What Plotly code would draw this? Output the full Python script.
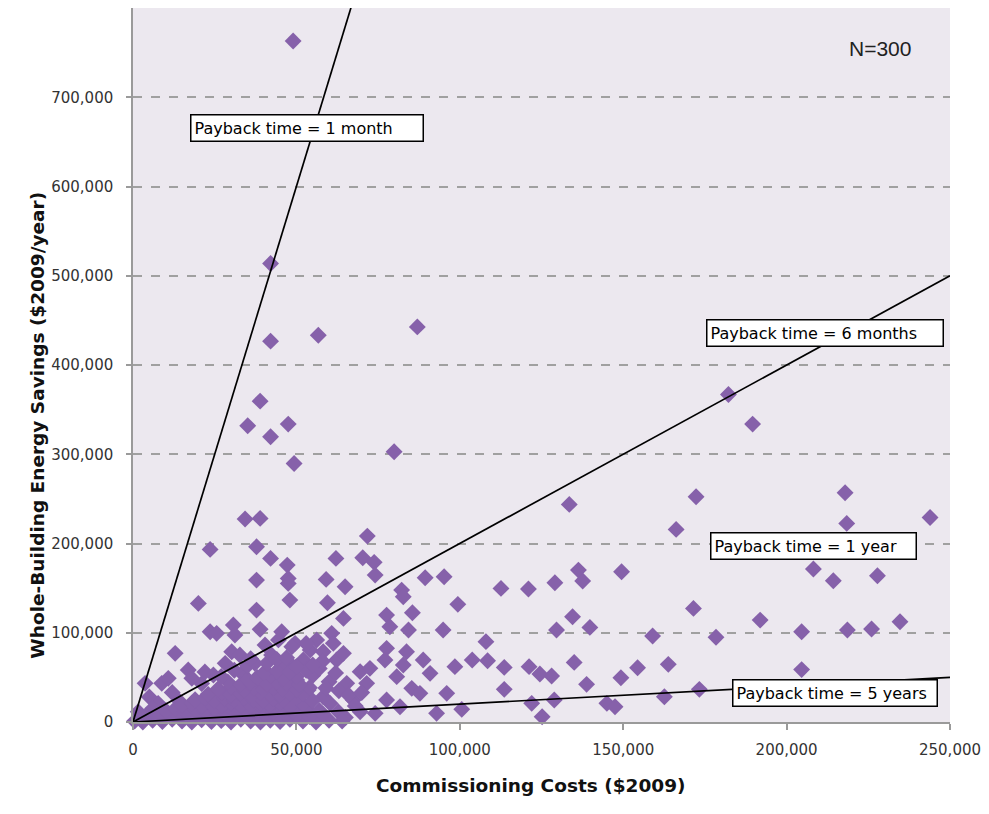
import plotly.graph_objects as go

# Commissioning cost vs. annual whole-building energy savings, in thousands of $2009.
# Each list holds (cost, savings) pairs for one part of the scatter.
high_savings = [
    (49.0, 763.0), (42.1, 513.7), (42.1, 426.7), (56.7, 433.4), (87.0, 442.7),
    (38.9, 359.5), (35.1, 331.9), (47.5, 333.8), (42.1, 319.6), (79.9, 302.8),
    (49.3, 289.7), (34.3, 227.4), (38.9, 228.1), (71.7, 208.3), (23.6, 193.4),
    (37.8, 196.3), (42.1, 183.3), (47.2, 175.8), (62.1, 183.3), (70.3, 184.0),
    (73.8, 178.9), (74.1, 164.6), (37.8, 159.0), (47.5, 160.9), (59.1, 159.8),
    (64.9, 151.6), (89.4, 161.6), (95.2, 162.7), (82.2, 147.8),
]

mid_cost = [
    (133.5, 243.8), (172.3, 252.4), (166.2, 215.8), (112.6, 149.7), (121.0, 149.0),
    (129.1, 156.0), (136.3, 170.2), (137.6, 157.9), (149.5, 168.3), (99.4, 131.8),
    (171.5, 127.3), (134.5, 118.0), (129.6, 103.0), (139.8, 106.0), (159.0, 96.3),
    (108.0, 90.0), (98.5, 62.0), (103.8, 69.4), (108.5, 68.7), (113.6, 61.2),
    (121.2, 62.0), (124.5, 53.8), (128.1, 51.5), (135.0, 66.8), (138.8, 42.2),
    (149.3, 49.6), (154.4, 60.8), (163.8, 64.6), (113.6, 36.6), (122.0, 20.9),
    (128.9, 24.6), (125.2, 5.9), (100.6, 14.2), (145.0, 20.9), (147.5, 17.1),
    (162.6, 28.3), (173.3, 36.6),
]

high_cost = [
    (182.2, 367.0), (189.6, 333.8), (217.9, 256.8), (243.9, 229.2), (218.4, 222.5),
    (208.2, 171.4), (214.3, 158.3), (227.8, 163.9), (178.4, 94.9), (191.9, 114.2),
    (204.6, 101.2), (218.6, 103.0), (226.0, 104.2), (234.7, 112.3), (204.6, 58.7),
]

cost_50k_100k = [
    (59.5, 133.6), (48.0, 136.6), (82.7, 140.3), (85.5, 122.4), (77.6, 119.8),
    (78.6, 106.7), (84.3, 103.0), (94.9, 103.0), (64.4, 116.1), (60.8, 99.3),
    (54.2, 80.6), (58.2, 78.7), (49.6, 88.1), (62.3, 69.4), (77.6, 82.5),
    (77.1, 69.4), (83.7, 78.7), (82.7, 63.8), (88.8, 69.4), (90.9, 54.5),
    (69.5, 56.4), (72.5, 60.1), (65.4, 43.3), (71.5, 43.3), (80.7, 50.8),
    (85.3, 37.7), (87.8, 32.1), (96.0, 32.1), (77.6, 24.6), (81.7, 17.1),
    (74.1, 9.7), (92.9, 9.7), (55.7, 5.9), (62.8, 11.5), (50.1, 47.0),
    (53.6, 35.8), (58.2, 28.3), (67.4, 24.6), (69.5, 11.5), (48.0, 65.7),
    (56.2, 91.8), (61.3, 88.1), (64.4, 76.9), (52.1, 69.4), (49.1, 28.3),
    (51.1, 13.4), (60.3, 20.9), (55.0, 52.0), (57.0, 60.0), (60.0, 45.0),
    (62.0, 55.0), (59.0, 38.0), (63.0, 35.0), (66.0, 30.0), (68.0, 18.0),
    (65.0, 5.0), (70.0, 33.0), (58.0, 68.0), (53.0, 88.0),
]

low_cost_upper = [
    (20.0, 132.9), (37.8, 125.4), (47.5, 155.3), (23.6, 101.1), (25.6, 99.3),
    (30.7, 108.6), (31.2, 97.4), (38.9, 103.8), (45.5, 101.1), (12.9, 76.9),
    (16.9, 58.2), (30.2, 78.7), (32.7, 75.0), (40.4, 86.2), (42.4, 75.0),
    (48.6, 84.3), (3.7, 43.3), (8.8, 43.3), (10.8, 48.9), (24.6, 52.6),
    (28.2, 65.7), (33.3, 54.5), (37.3, 65.7), (39.4, 47.0), (45.5, 62.0),
    (48.6, 50.8), (7.7, 20.9), (1.6, 11.5), (5.0, 28.0), (12.0, 33.0),
    (14.0, 24.0), (6.0, 15.0), (44.5, 92.0),
]

low_cost_cluster = [
    (0.5, 1.0), (3.0, 0.0), (6.0, 2.0), (9.0, 0.5), (12.0, 3.0), (15.0, 1.0),
    (18.0, 0.0), (21.0, 2.5), (24.0, 0.5), (27.0, 1.5), (30.0, 0.0), (33.0, 3.0),
    (36.0, 1.0), (39.0, 0.0), (42.0, 2.0), (45.0, 0.5), (48.0, 3.0), (52.0, 1.0),
    (56.0, 0.0), (60.0, 2.0), (64.0, 1.0),
    (4.0, 7.0), (8.0, 6.0), (11.0, 9.0), (14.0, 6.5), (17.0, 8.0), (20.0, 6.0),
    (23.0, 9.0), (26.0, 7.0), (29.0, 6.0), (32.0, 8.5), (35.0, 6.5), (38.0, 9.0),
    (41.0, 7.0), (44.0, 6.0), (47.0, 8.0), (50.0, 7.5), (54.0, 6.0), (58.0, 9.0),
    (10.0, 13.0), (13.0, 15.0), (16.0, 12.0), (19.0, 14.0), (22.0, 12.5), (25.0, 15.0),
    (28.0, 13.0), (31.0, 12.0), (34.0, 14.5), (37.0, 13.0), (40.0, 15.0), (43.0, 12.0),
    (46.0, 14.0), (49.0, 12.5), (53.0, 15.0), (57.0, 13.0),
    (15.0, 19.0), (18.0, 21.0), (21.0, 18.0), (24.0, 20.0), (27.0, 18.5), (30.0, 21.0),
    (33.0, 19.0), (36.0, 18.0), (39.0, 20.5), (42.0, 19.0), (45.0, 21.0), (48.0, 18.0),
    (52.0, 20.0),
    (19.0, 25.0), (22.0, 27.0), (25.0, 24.0), (28.0, 26.0), (31.0, 24.5), (34.0, 27.0),
    (37.0, 25.0), (40.0, 24.0), (43.0, 26.5), (46.0, 25.0), (50.0, 27.0), (55.0, 24.0),
    (23.0, 31.0), (27.0, 33.0), (30.0, 30.0), (33.0, 32.0), (36.0, 30.5), (39.0, 33.0),
    (42.0, 31.0), (45.0, 30.0), (48.0, 32.5), (52.0, 31.0),
    (26.0, 37.0), (30.0, 39.0), (34.0, 36.0), (37.0, 38.0), (40.0, 36.5), (43.0, 39.0),
    (46.0, 37.0), (50.0, 36.0), (54.0, 38.5),
    (21.0, 43.0), (29.0, 45.0), (33.0, 42.0), (36.0, 44.0), (41.0, 42.5), (44.0, 45.0),
    (47.0, 43.0), (51.0, 42.0),
    (18.0, 49.0), (27.0, 51.0), (35.0, 48.0), (38.0, 50.0), (42.0, 52.0), (46.0, 49.0),
    (50.0, 51.0),
    (22.0, 56.0), (31.0, 58.0), (40.0, 55.0), (44.0, 57.0), (48.0, 56.0), (53.0, 58.0),
    (35.0, 63.0), (41.0, 66.0), (50.0, 62.0), (55.0, 64.0),
    (36.0, 71.0), (44.0, 70.0), (47.0, 72.0),
]

# Payback periods (months) drawn as reference lines, and the labels shown
payback_line_months = [1, 6, 60]
payback_labels = [
    "Payback time = 1 month",
    "Payback time = 6 months",
    "Payback time = 1 year",
    "Payback time = 5 years",
]

x_ticks = [0, 50000, 100000, 150000, 200000, 250000]
y_ticks = [0, 100000, 200000, 300000, 400000, 500000, 600000, 700000]
x_max = 250000
y_max = 800000

points = (high_savings + mid_cost + high_cost + cost_50k_100k
          + low_cost_upper + low_cost_cluster)
costs = [c * 1000 for c, _ in points]
savings = [s * 1000 for _, s in points]

fig = go.Figure()

fig.add_trace(go.Scatter(
    x=costs, y=savings, mode="markers",
    marker=dict(symbol="diamond", size=13, color="#8661aa", line=dict(width=0)),
    cliponaxis=False, showlegend=False, hoverinfo="skip",
))

for months in payback_line_months:
    xs = [0, x_max]
    ys = [x * 12 / months for x in xs]
    fig.add_trace(go.Scatter(
        x=xs, y=ys, mode="lines",
        line=dict(color="black", width=1.7),
        showlegend=False, hoverinfo="skip",
    ))

label_font = dict(family="DejaVu Sans", size=16, color="black")
label_specs = [
    # (label index, x, y, box width)
    (0, 53200, 665000, 225),
    (1, 211800, 435700, 229),
    (2, 208100, 197100, 198),
    (3, 214800, 32500, 197),
]
for idx, lx, ly, w in label_specs:
    fig.add_annotation(
        x=lx, y=ly, xref="x", yref="y", text=payback_labels[idx],
        showarrow=False, font=label_font, align="left", width=w,
        bgcolor="white", bordercolor="black", borderwidth=1.5, borderpad=3,
    )

fig.add_annotation(
    x=228600, y=755000, xref="x", yref="y", text="N=300", showarrow=False,
    font=dict(family="Liberation Sans", size=21, color="#222222"),
)

fig.add_annotation(
    x=0.487, y=-0.106, xref="paper", yref="paper",
    text="<b>Commissioning Costs ($2009)</b>", showarrow=False,
    font=dict(family="DejaVu Sans", size=18.5, color="#111111"),
)
fig.add_annotation(
    x=-0.132, y=0.416, xref="paper", yref="paper", textangle=-90,
    text="<b>Whole-Building Energy Savings ($2009/year)</b>", showarrow=False,
    font=dict(family="DejaVu Sans", size=18.5, color="#111111"),
)

fig.update_layout(
    width=989, height=814,
    margin=dict(l=133, r=39, t=8, b=92),
    paper_bgcolor="white", plot_bgcolor="#ece8ef",
    font=dict(family="DejaVu Sans", color="#333333"),
)
fig.update_xaxes(
    range=[0, x_max], tickvals=x_ticks,
    ticktext=[f"{v:,}" for v in x_ticks],
    showgrid=False, zeroline=False,
    showline=True, linecolor="#9a9a9a", linewidth=1.5,
    ticks="outside", ticklen=6, tickcolor="#9a9a9a", tickwidth=1.5,
    ticklabelstandoff=7,
    tickfont=dict(family="DejaVu Sans", size=15, color="#333333"),
)
fig.update_yaxes(
    range=[0, y_max], tickvals=y_ticks,
    ticktext=[f"{v:,}" for v in y_ticks],
    showgrid=True, gridcolor="#a0a0a0", gridwidth=1.5, griddash="dash",
    zeroline=False,
    showline=True, linecolor="#9a9a9a", linewidth=1.5,
    ticks="outside", ticklen=5, tickcolor="#9a9a9a", tickwidth=1.5,
    ticklabelstandoff=10,
    tickfont=dict(family="DejaVu Sans", size=15, color="#333333"),
)

fig.write_html("out.html")
